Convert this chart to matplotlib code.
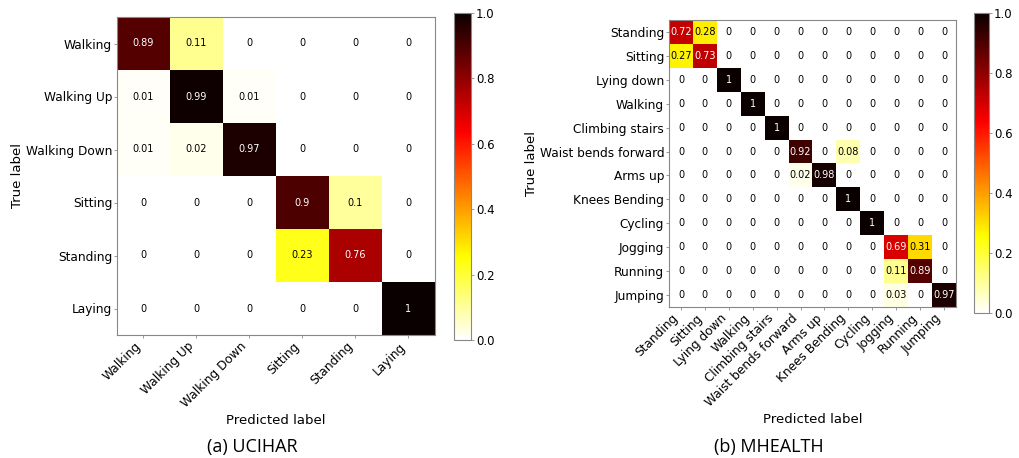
import numpy as np
import matplotlib.pyplot as plt

# UCIHAR confusion matrix
ucihar_labels = ["Walking", "Walking Up", "Walking Down", "Sitting", "Standing", "Laying"]
ucihar_cm = [
    [0.89, 0.11, 0, 0, 0, 0],
    [0.01, 0.99, 0.01, 0, 0, 0],
    [0.01, 0.02, 0.97, 0, 0, 0],
    [0, 0, 0, 0.9, 0.1, 0],
    [0, 0, 0, 0.23, 0.76, 0],
    [0, 0, 0, 0, 0, 1],
]

# MHEALTH confusion matrix
mhealth_labels = ["Standing", "Sitting", "Lying down", "Walking", "Climbing stairs",
                  "Waist bends forward", "Arms up", "Knees Bending", "Cycling",
                  "Jogging", "Running", "Jumping"]
mhealth_cm = [
    [0.72, 0.28, 0, 0, 0, 0, 0, 0, 0, 0, 0, 0],
    [0.27, 0.73, 0, 0, 0, 0, 0, 0, 0, 0, 0, 0],
    [0, 0, 1, 0, 0, 0, 0, 0, 0, 0, 0, 0],
    [0, 0, 0, 1, 0, 0, 0, 0, 0, 0, 0, 0],
    [0, 0, 0, 0, 1, 0, 0, 0, 0, 0, 0, 0],
    [0, 0, 0, 0, 0, 0.92, 0, 0.08, 0, 0, 0, 0],
    [0, 0, 0, 0, 0, 0.02, 0.98, 0, 0, 0, 0, 0],
    [0, 0, 0, 0, 0, 0, 0, 1, 0, 0, 0, 0],
    [0, 0, 0, 0, 0, 0, 0, 0, 1, 0, 0, 0],
    [0, 0, 0, 0, 0, 0, 0, 0, 0, 0.69, 0.31, 0],
    [0, 0, 0, 0, 0, 0, 0, 0, 0, 0.11, 0.89, 0],
    [0, 0, 0, 0, 0, 0, 0, 0, 0, 0.03, 0, 0.97],
]

W, H = 1020, 458


def px_rect(x0, y0, x1, y1):
    """pixel box (top-left origin) -> figure rect"""
    return [x0 / W, (H - y1) / H, (x1 - x0) / W, (y1 - y0) / H]


def draw_cm(fig, rect, cbar_rect, cm, labels, tick_fs, ann_fs):
    ax = fig.add_axes(rect)
    cm = np.array(cm, dtype=float)
    im = ax.imshow(cm, cmap="hot_r", vmin=0, vmax=1, aspect="auto",
                   interpolation="nearest")
    n = len(labels)
    for i in range(n):
        for j in range(n):
            v = cm[i, j]
            ax.text(j, i, f"{v:g}", ha="center", va="center", fontsize=ann_fs,
                    color="white" if v > 0.5 else "black")
    ax.set_xticks(range(n))
    ax.set_yticks(range(n))
    ax.set_xticklabels(labels, rotation=45, ha="right", fontsize=tick_fs)
    ax.set_yticklabels(labels, fontsize=tick_fs)
    ax.tick_params(length=2, width=0.6, pad=1.5, color="#888888")
    ax.set_xlabel("Predicted label", fontsize=9.5, labelpad=2.5)
    ax.set_ylabel("True label", fontsize=9.5, labelpad=1)
    for s in ax.spines.values():
        s.set_color("#888888")
    cax = fig.add_axes(cbar_rect)
    cb = fig.colorbar(im, cax=cax)
    cb.set_ticks([0, 0.2, 0.4, 0.6, 0.8, 1.0])
    cb.ax.tick_params(labelsize=8.5, length=2, width=0.6, pad=1.5, color="#888888")
    cb.outline.set_edgecolor("#888888")
    return ax


fig = plt.figure(figsize=(W / 100, H / 100), dpi=100)

ax1 = draw_cm(fig, px_rect(117, 17, 435, 335), px_rect(454, 13, 471, 340),
              ucihar_cm, ucihar_labels, 8.7, 7)
ax2 = draw_cm(fig, px_rect(669, 20, 956, 307), px_rect(974, 13, 989, 313),
              mhealth_cm, mhealth_labels, 8.7, 7)

fig.text(252 / W, 1 - 447 / H, "(a) UCIHAR", ha="center", va="center",
         fontsize=13, family="Open Sans")
fig.text(769 / W, 1 - 447 / H, "(b) MHEALTH", ha="center", va="center",
         fontsize=13, family="Open Sans")

fig.savefig("out.png", dpi=100)
